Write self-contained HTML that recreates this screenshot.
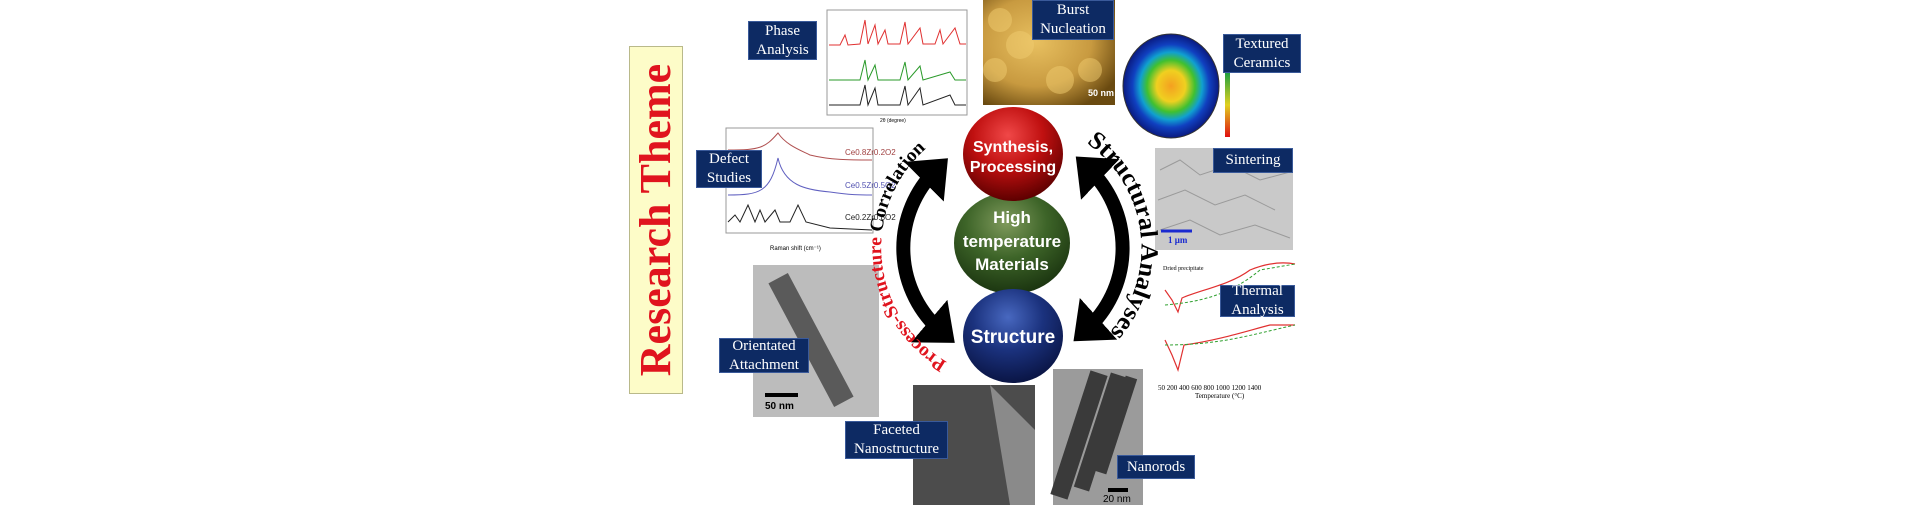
<!DOCTYPE html>
<html><head><meta charset="utf-8"><style>
body{margin:0;width:1920px;height:505px;background:#fff;overflow:hidden;position:relative;font-family:"Liberation Serif",serif}
.a{position:absolute}
.lbl{position:absolute;background:#0d2a63;color:#fff;font-family:"Liberation Serif",serif;font-size:15px;line-height:19px;text-align:center;display:flex;align-items:center;justify-content:center;border:1px solid #3a5a9a;box-sizing:border-box}
</style></head><body>
<div class="a" style="left:629px;top:46px;width:54px;height:348px;background:#fdfcc8;border:1px solid #b9b98a;box-sizing:border-box"></div>
<div class="a" style="left:656px;top:220px;width:0;height:0">
<div style="position:absolute;left:-170px;top:-30px;width:340px;height:60px;transform:rotate(-90deg);color:#e0141e;font-weight:bold;font-size:44px;line-height:60px;text-align:center;white-space:nowrap;font-family:'Liberation Serif',serif">Research Theme</div></div>

<svg class="a" style="left:0;top:0" width="1920" height="505">
<defs>
<radialGradient id="rg" cx="45%" cy="30%" r="70%"><stop offset="0" stop-color="#f04848"/><stop offset=".5" stop-color="#c01010"/><stop offset="1" stop-color="#5e0000"/></radialGradient>
<radialGradient id="gg" cx="45%" cy="30%" r="70%"><stop offset="0" stop-color="#7f9a5c"/><stop offset=".5" stop-color="#3d6428"/><stop offset="1" stop-color="#1b3510"/></radialGradient>
<radialGradient id="bg" cx="45%" cy="30%" r="70%"><stop offset="0" stop-color="#4868c0"/><stop offset=".5" stop-color="#1b327e"/><stop offset="1" stop-color="#0a1545"/></radialGradient>
<radialGradient id="pole" cx="50%" cy="50%" r="50%"><stop offset="0" stop-color="#f4a020"/><stop offset=".3" stop-color="#f0d020"/><stop offset=".5" stop-color="#40c030"/><stop offset=".65" stop-color="#10a0d0"/><stop offset=".8" stop-color="#1040c0"/><stop offset="1" stop-color="#0a1a80"/></radialGradient>
<radialGradient id="gold" cx="40%" cy="40%" r="70%"><stop offset="0" stop-color="#e8c060"/><stop offset=".6" stop-color="#c89a40"/><stop offset="1" stop-color="#6a4a10"/></radialGradient>
<linearGradient id="cb" x1="0" y1="0" x2="0" y2="1"><stop offset="0" stop-color="#20a040"/><stop offset=".5" stop-color="#e0d020"/><stop offset="1" stop-color="#e01010"/></linearGradient>
<marker id="ah" markerWidth="4" markerHeight="4" refX="1.2" refY="2" orient="auto-start-reverse" markerUnits="strokeWidth"><path d="M0,0 L2.4,2 L0,4 Z" fill="#000"/></marker>
<path id="lt" d="M947,362 A132,132 0 0 1 943,136"/>
<path id="rt" d="M1086.5,143 A128,128 0 0 1 1092,349"/>
</defs>

<rect x="827" y="10" width="140" height="105" fill="#fff" stroke="#999"/>
<polyline points="829,45 840,45 845,35 848,45 860,44 865,20 868,44 875,25 878,44 885,30 888,44 900,44 905,22 908,44 920,28 923,44 935,44 940,30 943,44 955,28 960,44 966,44" fill="none" stroke="#e03030"/>
<polyline points="829,80 860,80 865,60 868,80 875,65 878,80 900,80 905,62 908,80 920,66 923,80 950,72 955,80 966,80" fill="none" stroke="#2a9a2a"/>
<polyline points="829,105 860,105 865,85 868,105 875,88 878,105 900,105 905,86 908,105 920,88 923,105 950,95 955,105 966,105" fill="none" stroke="#222"/>
<text x="880" y="122" font-family="Liberation Sans" font-size="5">2θ (degree)</text>
<rect x="726" y="128" width="147" height="105" fill="#fff" stroke="#999"/>
<path d="M728,150 C760,150 765,148 778,133 C786,145 800,150 810,155 C830,160 850,160 872,160" fill="none" stroke="#b05050"/>
<path d="M728,195 C760,195 770,192 778,158 C784,185 805,190 830,192 C850,195 860,195 872,195" fill="none" stroke="#6060c0"/>
<path d="M728,222 L735,215 L740,222 L748,205 L755,222 L760,210 L765,222 L775,210 L780,222 L790,222 L798,205 L806,222 L830,228 L872,230" fill="none" stroke="#222"/>
<text x="845" y="155" font-family="Liberation Sans" font-size="8" fill="#a04040">Ce0.8Zr0.2O2</text>
<text x="845" y="188" font-family="Liberation Sans" font-size="8" fill="#5050b0">Ce0.5Zr0.5O2</text>
<text x="845" y="220" font-family="Liberation Sans" font-size="8" fill="#222">Ce0.2Zr0.8O2</text>
<text x="770" y="250" font-family="Liberation Sans" font-size="6">Raman shift (cm⁻¹)</text>
<rect x="983" y="0" width="132" height="105" fill="url(#gold)"/>
<g fill="#f0cc70" opacity=".5"><circle cx="1000" cy="20" r="12"/><circle cx="1020" cy="45" r="14"/><circle cx="995" cy="70" r="12"/><circle cx="1060" cy="80" r="14"/><circle cx="1090" cy="70" r="12"/></g>
<text x="1088" y="96" font-family="Liberation Sans" font-size="9" fill="#fff" font-weight="bold">50 nm</text>
<ellipse cx="1171" cy="86" rx="48" ry="52" fill="url(#pole)" stroke="#333"/>
<rect x="1225" y="73" width="5" height="64" fill="url(#cb)"/>
<rect x="1155" y="148" width="138" height="102" fill="#c9c9c9"/>
<g fill="none" stroke="#9a9a9a"><path d="M1160,170 L1180,160 L1200,175 L1230,165 L1260,180 L1290,172 M1158,200 L1185,190 L1215,205 L1245,195 L1275,210 M1160,230 L1190,220 L1220,235 L1255,225 L1290,238"/></g>
<line x1="1161" y1="231" x2="1192" y2="231" stroke="#1a2ad0" stroke-width="3"/>
<text x="1168" y="243" font-size="9" fill="#1a2ad0" font-weight="bold">1 μm</text>
<rect x="1153" y="260" width="144" height="138" fill="#fff"/>
<path d="M1165,290 L1172,300 L1178,312 L1182,298 C1200,290 1230,285 1250,270 C1270,262 1285,262 1295,264" fill="none" stroke="#e03030" stroke-width="1.2"/>
<path d="M1165,305 C1200,302 1230,295 1260,270 L1295,264" fill="none" stroke="#30a030" stroke-dasharray="3,2"/>
<path d="M1165,340 L1172,355 L1178,370 L1184,345 C1220,340 1250,330 1270,325 L1295,325" fill="none" stroke="#e03030" stroke-width="1.2"/>
<path d="M1165,345 C1220,345 1250,335 1295,325" fill="none" stroke="#30a030" stroke-dasharray="3,2"/>
<text x="1158" y="390" font-size="7">50 200 400 600 800 1000 1200 1400</text>
<text x="1195" y="398" font-size="7">Temperature (°C)</text>
<text x="1163" y="270" font-size="6">Dried precipitate</text>
<rect x="753" y="265" width="126" height="152" fill="#bcbcbc"/>
<rect x="800" y="270" width="22" height="140" fill="#5a5a5a" transform="rotate(-28 811 340)"/>
<rect x="765" y="393" width="33" height="4" fill="#000"/>
<text x="765" y="409" font-family="Liberation Sans" font-size="10" font-weight="bold">50 nm</text>
<rect x="913" y="385" width="122" height="120" fill="#4c4c4c"/>
<path d="M990,385 L1035,430 L1035,505 L1010,505 Z" fill="#8a8a8a"/>
<rect x="1053" y="369" width="90" height="136" fill="#9b9b9b"/>
<g fill="#3a3a3a"><rect x="1070" y="370" width="18" height="130" transform="rotate(18 1079 435)"/><rect x="1092" y="372" width="16" height="120" transform="rotate(18 1100 432)"/><rect x="1110" y="375" width="12" height="100" transform="rotate(18 1116 425)"/></g>
<rect x="1108" y="488" width="20" height="4" fill="#000"/>
<text x="1103" y="502" font-family="Liberation Sans" font-size="10">20 nm</text>

<path d="M942,332 A110,110 0 0 1 936,170" fill="none" stroke="#000" stroke-width="14" marker-start="url(#ah)" marker-end="url(#ah)"/>
<path d="M1088,168 A110,110 0 0 1 1086,330" fill="none" stroke="#000" stroke-width="14" marker-start="url(#ah)" marker-end="url(#ah)"/>
<text font-family="Liberation Serif" font-weight="bold" font-size="19"><textPath href="#lt" textLength="250" lengthAdjust="spacingAndGlyphs"><tspan fill="#e0141e">Process-Structure</tspan> <tspan fill="#000">Correlation</tspan></textPath></text>
<text font-family="Liberation Serif" font-weight="bold" font-size="25"><textPath href="#rt" textLength="215" lengthAdjust="spacingAndGlyphs">Structural Analyses</textPath></text>

<ellipse cx="1012" cy="243" rx="58" ry="51" fill="url(#gg)"/>
<ellipse cx="1013" cy="154" rx="50" ry="47" fill="url(#rg)"/>
<ellipse cx="1013" cy="336" rx="50" ry="47" fill="url(#bg)"/>
<g font-family="Liberation Sans" font-weight="bold" fill="#fff" text-anchor="middle">
<text x="1013" y="152" font-size="16">Synthesis,</text>
<text x="1013" y="172" font-size="16">Processing</text>
<text x="1012" y="223" font-size="17">High</text>
<text x="1012" y="247" font-size="17">temperature</text>
<text x="1012" y="270" font-size="17">Materials</text>
<text x="1013" y="343" font-size="19">Structure</text>
</g>
</svg>

<div class="lbl" style="left:748px;top:21px;width:69px;height:39px">Phase<br>Analysis</div>
<div class="lbl" style="left:696px;top:150px;width:66px;height:38px">Defect<br>Studies</div>
<div class="lbl" style="left:1032px;top:0px;width:82px;height:40px">Burst<br>Nucleation</div>
<div class="lbl" style="left:1223px;top:34px;width:78px;height:39px">Textured<br>Ceramics</div>
<div class="lbl" style="left:1213px;top:148px;width:80px;height:25px">Sintering</div>
<div class="lbl" style="left:1220px;top:285px;width:75px;height:32px">Thermal<br>Analysis</div>
<div class="lbl" style="left:719px;top:338px;width:90px;height:35px">Orientated<br>Attachment</div>
<div class="lbl" style="left:845px;top:421px;width:103px;height:38px">Faceted<br>Nanostructure</div>
<div class="lbl" style="left:1117px;top:455px;width:78px;height:24px">Nanorods</div>
</body></html>
